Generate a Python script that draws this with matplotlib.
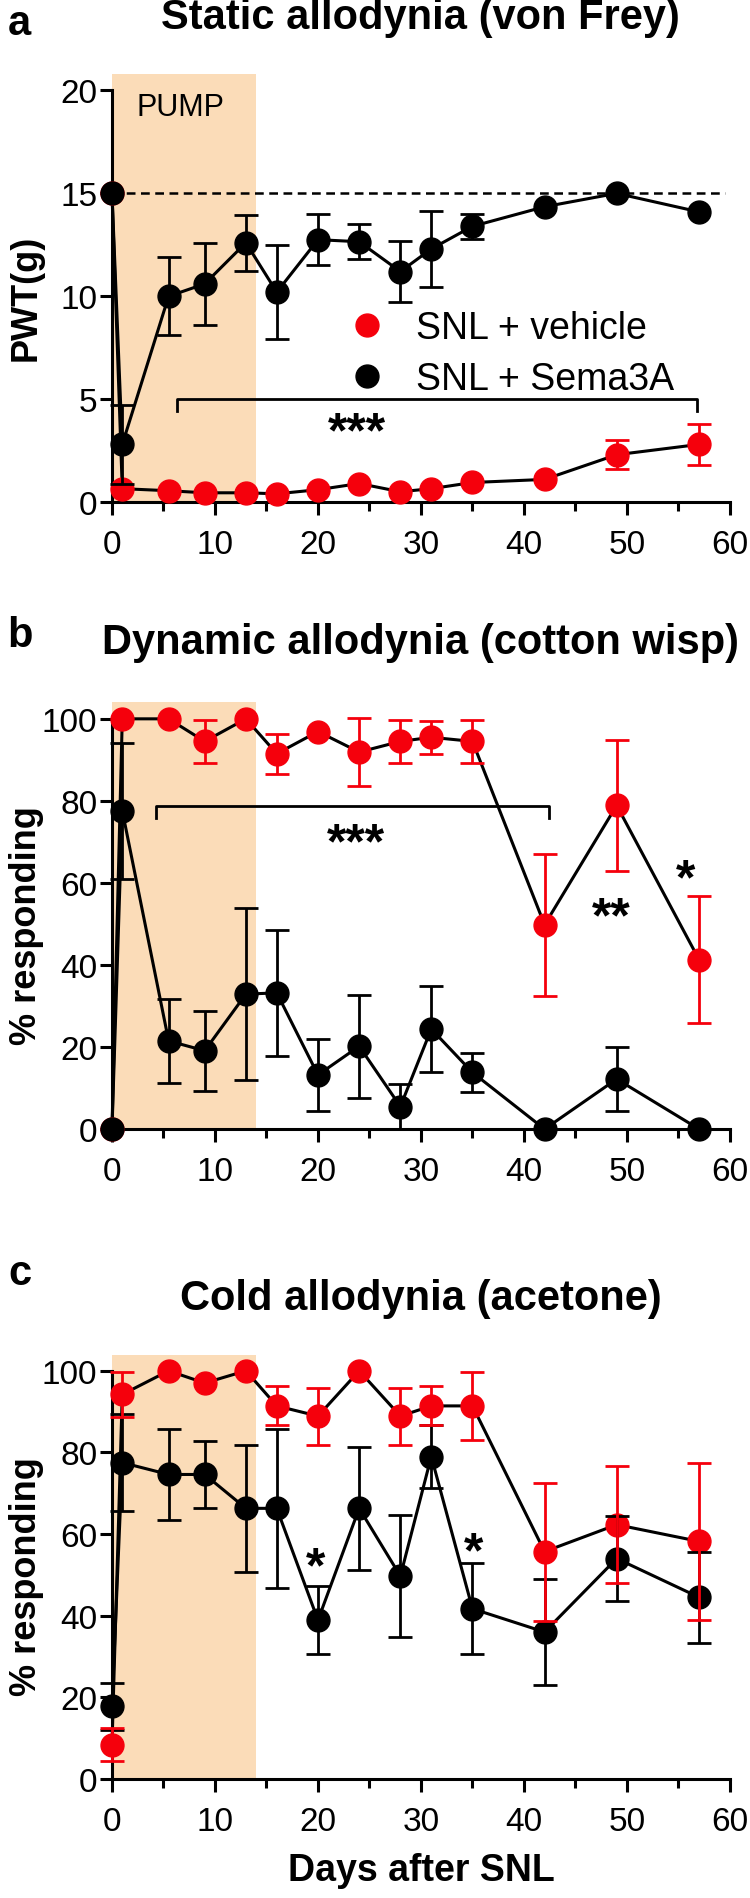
import matplotlib
matplotlib.use("Agg")
import matplotlib.pyplot as plt
from matplotlib.lines import Line2D
import numpy as np

plt.rcParams["font.family"] = ["Liberation Sans", "DejaVu Sans"]

RED = "#f5000c"
PEACH = "#fbdcb8"

days = np.array([0, 1, 5.5, 9, 13, 16, 20, 24, 28, 31, 35, 42, 49, 57])

# panel a: static allodynia, PWT (g)
a_vehicle = np.array([15, 0.65, 0.55, 0.45, 0.45, 0.4, 0.6, 0.9, 0.5, 0.65, 0.95, 1.1, 2.3, 2.8])
a_vehicle_err = np.array([0, 0, 0, 0, 0, 0, 0, 0, 0, 0, 0, 0, 0.7, 1.0])
a_sema = np.array([15, 2.8, 10.0, 10.6, 12.6, 10.2, 12.75, 12.65, 11.2, 12.3, 13.4, 14.35, 15.0, 14.1])
a_sema_err = np.array([0, 1.9, 1.9, 2.0, 1.35, 2.3, 1.25, 0.85, 1.5, 1.85, 0.6, 0, 0, 0])

# panel b: dynamic allodynia, % responding
b_vehicle = np.array([0, 100, 100, 94.5, 100, 91.5, 96.9, 91.9, 94.5, 95.5, 94.5, 49.8, 78.9, 41.3])
b_vehicle_err = np.array([0, 0, 0, 5.3, 0, 4.9, 0, 8.2, 5.3, 4.0, 5.3, 17.3, 16.0, 15.5])
b_sema = np.array([0, 77.6, 21.5, 19.1, 32.9, 33.2, 13.2, 20.2, 5.5, 24.4, 13.8, 0, 12.2, 0])
b_sema_err = np.array([0, 16.6, 10.2, 9.8, 21.0, 15.4, 8.7, 12.5, 5.5, 10.6, 4.7, 0, 7.8, 0])

# panel c: cold allodynia, % responding
c_vehicle = np.array([8.4, 94.2, 100, 97.0, 100, 91.4, 88.9, 100, 88.9, 91.4, 91.4, 55.7, 62.3, 58.2])
c_vehicle_err = np.array([4.1, 5.4, 0, 0, 0, 4.8, 7.0, 0, 7.0, 4.8, 8.3, 16.9, 14.3, 19.2])
c_sema = np.array([17.8, 77.5, 74.6, 74.6, 66.3, 66.3, 38.9, 66.3, 49.7, 79.0, 41.7, 36.0, 54.0, 44.5])
c_sema_err = np.array([5.7, 11.8, 11.2, 8.3, 15.6, 19.4, 8.3, 15.1, 14.9, 7.7, 11.1, 13.1, 10.4, 11.1])

pump_days = (0, 14)
baseline_pwt = 15

# significance marks: (x, y, text) and brackets (x0, x1, y)
a_bracket = (6.3, 56.8, 5.0)
a_stars = [(23.8, 3.7, "***")]
b_bracket = (4.3, 42.4, 78.7)
b_stars = [(23.7, 71.2, "***"), (48.5, 53.3, "**"), (55.7, 62.6, "*")]
c_stars = [(19.8, 53.6, "*"), (35.1, 57.3, "*")]

fig = plt.figure(figsize=(7.5, 18.99), dpi=100)
ax_a = fig.add_axes([0.1493, 0.7351, 0.824, 0.2254])
ax_b = fig.add_axes([0.1493, 0.4049, 0.824, 0.2249])
ax_c = fig.add_axes([0.1493, 0.0627, 0.824, 0.2233])


def draw_series(ax, y, err, color, mz, bz):
    ax.plot(days, y, color="k", lw=2.2, zorder=2, clip_on=False)
    ax.plot(days, y, "o", color=color, ms=16.5, zorder=mz, clip_on=False)
    m = err > 0
    ax.errorbar(days[m], y[m], yerr=err[m], fmt="none", ecolor=color,
                elinewidth=2.0, capsize=8.5, capthick=2.0, zorder=bz, clip_on=False)


def stars(ax, marks):
    # asterisk glyphs sit high in the line box, so anchor on the baseline
    for x, y, t in marks:
        ax.annotate(t, (x, y), xytext=(0, -15), textcoords="offset points",
                    fontsize=36, fontweight="bold", ha="center", va="baseline")


def style(ax, ymax, yticks, top):
    ax.axvspan(*pump_days, color=PEACH, lw=0, zorder=0)
    ax.set_xlim(0, 60)
    ax.set_ylim(0, top)
    ax.set_yticks(yticks)
    ax.set_xticks(np.arange(0, 61, 10))
    ax.set_xticks(np.arange(5, 60, 10), minor=True)
    for s in ["top", "right"]:
        ax.spines[s].set_visible(False)
    ax.spines["left"].set_bounds(0, ymax)
    for s in ["left", "bottom"]:
        ax.spines[s].set_linewidth(2.2)
    ax.tick_params(axis="both", which="major", direction="out", width=2.2,
                   labelsize=24)
    ax.tick_params(axis="x", which="major", length=9.5, pad=10)
    ax.tick_params(axis="x", which="minor", length=6.5, width=2.2)
    ax.tick_params(axis="y", which="major", length=8.5, pad=2)


# panel a
style(ax_a, 20, [0, 5, 10, 15, 20], 20.8)
ax_a.hlines(baseline_pwt, 0, 59.5, colors="k", lw=1.8, linestyles=(0, (3.5, 2.2)), zorder=1)
draw_series(ax_a, a_vehicle, a_vehicle_err, RED, 3, 6)
draw_series(ax_a, a_sema, a_sema_err, "k", 4, 5)
ax_a.text(6.6, 19.2, "PUMP", fontsize=22, ha="center", va="center")
ax_a.set_ylabel("PWT(g)", fontsize=26, fontweight="bold")
ax_a.yaxis.set_label_coords(-0.11, 0.48)

x0, x1, yb = a_bracket
ax_a.plot([x0, x0, x1, x1], [yb - 0.6, yb, yb, yb - 0.6], color="k", lw=2.0, zorder=2)
stars(ax_a, a_stars)

handles = [Line2D([], [], marker="o", ls="none", color=RED, ms=16.5),
           Line2D([], [], marker="o", ls="none", color="k", ms=16.5)]
ax_a.legend(handles, ["SNL + vehicle", "SNL + Sema3A"], loc="center left",
            bbox_to_anchor=(0.364, 0.347), frameon=False, fontsize=27,
            handletextpad=0.5, labelspacing=0.42, handlelength=1.6,
            borderaxespad=0, borderpad=0)

# panel b
style(ax_b, 100, [0, 20, 40, 60, 80, 100], 104.1)
draw_series(ax_b, b_vehicle, b_vehicle_err, RED, 3, 6)
draw_series(ax_b, b_sema, b_sema_err, "k", 4, 5)
ax_b.set_ylabel("% responding", fontsize=26, fontweight="bold")
ax_b.yaxis.set_label_coords(-0.11, 0.48)
x0, x1, yb = b_bracket
ax_b.plot([x0, x0, x1, x1], [yb - 2.8, yb, yb, yb - 2.8], color="k", lw=2.0, zorder=2)
stars(ax_b, b_stars)

# panel c
style(ax_c, 100, [0, 20, 40, 60, 80, 100], 103.9)
draw_series(ax_c, c_vehicle, c_vehicle_err, RED, 3, 6)
draw_series(ax_c, c_sema, c_sema_err, "k", 4, 5)
ax_c.set_ylabel("% responding", fontsize=26, fontweight="bold")
ax_c.yaxis.set_label_coords(-0.11, 0.48)
ax_c.set_xlabel("Days after SNL", fontsize=27, fontweight="bold", labelpad=11)
stars(ax_c, c_stars)

# titles and panel letters
titles = ["Static allodynia (von Frey)", "Dynamic allodynia (cotton wisp)", "Cold allodynia (acetone)"]
title_y = [0.9905, 0.6614, 0.316]
letters = ["a", "b", "c"]
letter_y = [0.9875, 0.665, 0.329]
for t, ty, l, ly in zip(titles, title_y, letters, letter_y):
    fig.text(0.561, ty, t, fontsize=30, fontweight="bold", ha="center", va="center")
    fig.text(0.026, ly, l, fontsize=30, fontweight="bold", ha="center", va="center")

fig.savefig("out.png", dpi=100)
plt.close(fig)
